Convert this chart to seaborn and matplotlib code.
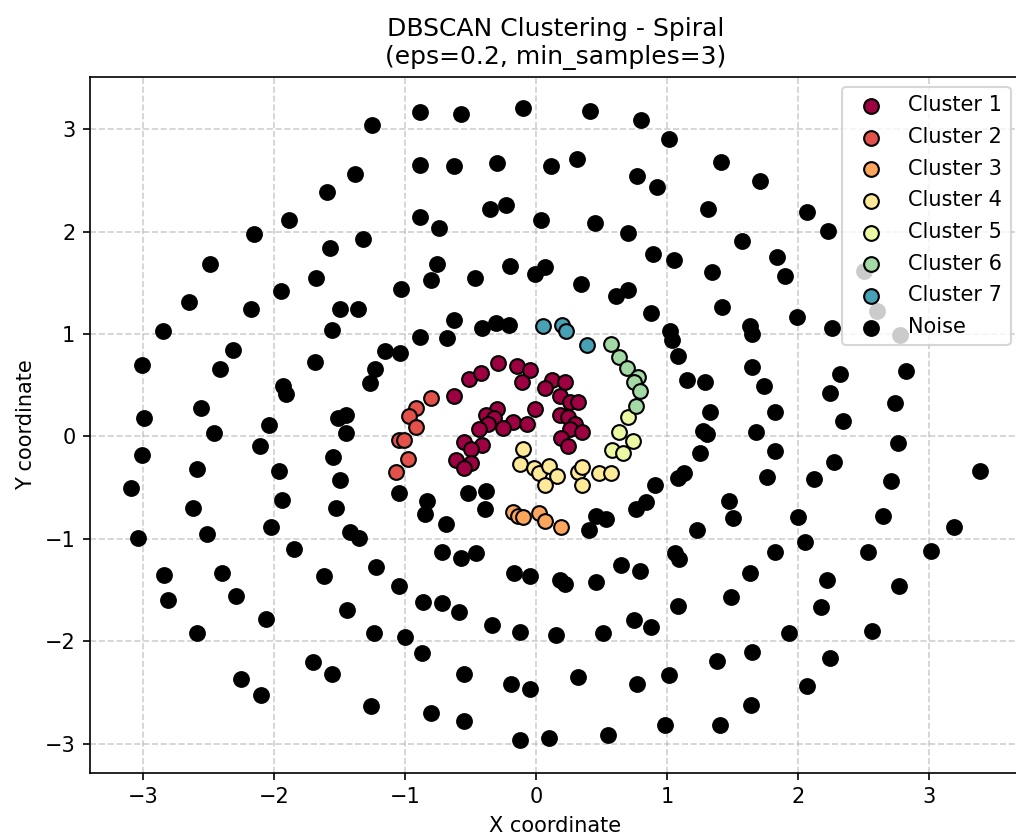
import numpy as np
import matplotlib
matplotlib.use("Agg")
import matplotlib.pyplot as plt
import seaborn as sns

# cluster points
c1_x = [-0.63, -0.51, -0.42, -0.29, -0.15, -0.05, -0.11, -0.01, 0.12, 0.22, 0.07, 0.18, 0.26, 0.32,
        0.18, 0.24, 0.30, 0.26, 0.35, 0.19, 0.24, -0.30, -0.38, -0.32, -0.18, -0.07, -0.25, -0.37,
        -0.44, -0.41, -0.55, -0.50, -0.61, -0.50, -0.55]
c1_y = [0.39, 0.56, 0.62, 0.72, 0.69, 0.65, 0.53, 0.27, 0.55, 0.53, 0.47, 0.39, 0.34, 0.34,
        0.21, 0.19, 0.12, 0.07, 0.04, -0.02, -0.09, 0.27, 0.21, 0.18, 0.14, 0.12, 0.08, 0.12,
        0.07, -0.08, -0.06, -0.12, -0.23, -0.26, -0.31]
c2_x = [-0.80, -0.92, -0.97, -0.92, -1.05, -1.01, -0.98, -1.07]
c2_y = [0.37, 0.28, 0.20, 0.09, -0.04, -0.04, -0.22, -0.35]
c3_x = [-0.18, -0.14, -0.10, 0.02, 0.07, 0.19]
c3_y = [-0.74, -0.78, -0.79, -0.75, -0.83, -0.89]
c4_x = [-0.10, -0.12, -0.02, 0.02, 0.10, 0.16, 0.07, 0.32, 0.35, 0.35, 0.48, 0.57]
c4_y = [-0.12, -0.27, -0.31, -0.36, -0.29, -0.39, -0.48, -0.35, -0.30, -0.48, -0.36, -0.36]
c5_x = [0.70, 0.63, 0.74, 0.58, 0.66]
c5_y = [0.19, 0.04, -0.05, -0.13, -0.16]
c6_x = [0.57, 0.63, 0.69, 0.78, 0.75, 0.79, 0.76]
c6_y = [0.90, 0.77, 0.67, 0.58, 0.53, 0.44, 0.30]
c7_x = [0.05, 0.20, 0.23, 0.39]
c7_y = [1.08, 1.09, 1.03, 0.89]

noise_x = [-1.25, -1.38, -1.60, -1.89, -2.15, -1.32, -1.57, -2.49, -1.68, -1.95, -2.65, -2.18, -1.50, -1.36, -1.03,
           -0.89, -0.57, -0.10, 0.41, 0.80, 1.01, -0.89, -0.63, -0.30, 0.11, 0.31, 0.77, 0.92, 1.31,
           -0.89, -0.74, -0.35, -0.23, 0.04, 0.45, 0.70, 0.89, 1.05, 1.34, -0.76, -0.80, -0.47, -0.20,
           -0.01, 0.07, 0.34, 0.61, 0.70, 0.88, -0.63,
           1.41, 1.71, 2.07, 2.23, 1.57, 1.84, 1.90, 1.42, 1.99, 2.50, 2.60, 2.78,
           1.63, 1.65, 2.26, 1.65, 2.32, 2.82, 1.29, 1.15, 1.74, 2.24, 2.74, 1.33, 1.82, 2.34, 1.68,
           1.27, 1.30, 2.76, 1.82, 2.27, 3.39, 1.76, 2.12, 2.71, 1.47, 1.50, 2.00, 2.65, 3.19, 2.05,
           1.82, 2.53, 3.01,
           1.63, 2.22, 2.77, 1.49, 2.17, 1.93, 2.56, 1.38, 1.65, 2.24, 2.07, 1.64, 1.40,
           -0.72, -0.57, -0.46, -0.17, -0.05, 0.18, 0.22, 0.46, 0.65, 0.79, 1.06, 1.09, -1.05, -0.86,
           -0.72, -0.59, -0.34, -0.12, 0.15, 0.51, 0.75, 0.88, 1.08, -1.00, -0.87, -0.55, -0.19,
           -0.05, 0.32, 0.77, 1.01, -0.80, -0.55, -0.12, 0.10, 0.55, 0.98,
           -2.84, -2.40, -1.85, -1.62, -1.22, -2.81, -2.29, -2.06, -1.44, -2.59, -1.24, -1.70, -1.56,
           -2.25, -2.10, -1.26,
           -2.85, -1.56, -2.31, -3.01, -2.41, -1.69, -1.15, -1.04, -1.23, -1.27, -1.93, -1.91, -2.56,
           -2.99, -2.04, -1.51, -1.45, -2.46, -1.45, -2.11, -3.01, -1.55, -2.59, -1.96, -3.09, -1.50,
           -1.94, -2.62, -1.53, -2.02, -2.51, -3.04, -1.42, -1.35, -1.05,
           -0.41, -0.31, -0.21, -0.89, -0.68, 1.02, 1.04, 1.08, 1.25, 1.08, 1.13, 0.91, 0.76, 0.84,
           1.23, 0.46, 0.53, 0.40, -0.83, -0.85, -0.69, -0.52, -0.38, -0.39]
noise_y = [3.04, 2.56, 2.39, 2.11, 1.98, 1.93, 1.84, 1.68, 1.55, 1.42, 1.31, 1.24, 1.24, 1.24, 1.44,
           3.17, 3.15, 3.21, 3.18, 3.09, 2.90, 2.65, 2.64, 2.67, 2.64, 2.71, 2.54, 2.43, 2.22,
           2.14, 2.03, 2.22, 2.26, 2.11, 2.08, 1.99, 1.78, 1.72, 1.60, 1.68, 1.53, 1.55, 1.66,
           1.59, 1.65, 1.49, 1.37, 1.43, 1.20, 1.14,
           2.68, 2.49, 2.19, 2.01, 1.91, 1.75, 1.57, 1.26, 1.17, 1.61, 1.22, 0.99,
           1.08, 1.00, 1.06, 0.68, 0.61, 0.64, 0.53, 0.55, 0.49, 0.42, 0.33, 0.24, 0.24, 0.15, 0.04,
           0.05, 0.02, -0.07, -0.14, -0.25, -0.34, -0.40, -0.42, -0.44, -0.63, -0.80, -0.79, -0.78, -0.89, -1.03,
           -1.13, -1.13, -1.12,
           -1.33, -1.40, -1.46, -1.57, -1.67, -1.92, -1.90, -2.19, -2.11, -2.16, -2.44, -2.62, -2.82,
           -1.13, -1.19, -1.14, -1.33, -1.36, -1.40, -1.44, -1.42, -1.26, -1.32, -1.14, -1.20, -1.46, -1.62,
           -1.63, -1.72, -1.84, -1.91, -1.94, -1.92, -1.79, -1.86, -1.66, -1.96, -2.12, -2.32, -2.42,
           -2.47, -2.35, -2.42, -2.33, -2.70, -2.78, -2.97, -2.95, -2.92, -2.82,
           -1.35, -1.33, -1.10, -1.36, -1.28, -1.60, -1.56, -1.78, -1.70, -1.92, -1.92, -2.20, -2.32,
           -2.37, -2.53, -2.63,
           1.03, 1.04, 0.84, 0.70, 0.66, 0.73, 0.83, 0.81, 0.66, 0.52, 0.49, 0.41, 0.28,
           0.18, 0.11, 0.18, 0.21, 0.03, 0.03, -0.09, -0.18, -0.20, -0.32, -0.34, -0.50, -0.43,
           -0.62, -0.70, -0.70, -0.89, -0.95, -0.99, -0.93, -0.99, -0.55,
           1.06, 1.11, 1.09, 0.97, 0.96, 1.03, 0.94, 0.78, -0.16, -0.41, -0.36, -0.48, -0.71, -0.64,
           -0.91, -0.78, -0.81, -0.91, -0.63, -0.76, -0.86, -0.55, -0.53, -0.71]

groups = [("Cluster 1", c1_x, c1_y), ("Cluster 2", c2_x, c2_y), ("Cluster 3", c3_x, c3_y),
          ("Cluster 4", c4_x, c4_y), ("Cluster 5", c5_x, c5_y), ("Cluster 6", c6_x, c6_y),
          ("Cluster 7", c7_x, c7_y)]

colors = plt.cm.Spectral(np.linspace(0, 1, len(groups) + 1))

fig = plt.figure(figsize=(1016 / 150, 836 / 150), dpi=150)
ax = fig.add_axes([90 / 1016, (836 - 772.7) / 836, (1021 - 90) / 1016, (772.7 - 76.7) / 836])

for (name, xs, ys), col in zip(groups, colors):
    sns.scatterplot(x=xs, y=ys, color=col, s=50, edgecolor="k", linewidth=1, label=name, ax=ax)

sns.scatterplot(x=noise_x, y=noise_y, color="k", s=50, edgecolor="k", linewidth=1, label="Noise", ax=ax)

ax.set_xlim(-3.405, 3.70)
ax.set_ylim(-3.285, 3.512)
ax.set_title("DBSCAN Clustering - Spiral\n(eps=0.2, min_samples=3)")
ax.set_xlabel("X coordinate")
ax.set_ylabel("Y coordinate")
ax.grid(True, linestyle="--", alpha=0.6)
ax.set_axisbelow(True)
ax.legend(loc="upper right", labelspacing=0.56)

fig.savefig("out.png", dpi=150)
